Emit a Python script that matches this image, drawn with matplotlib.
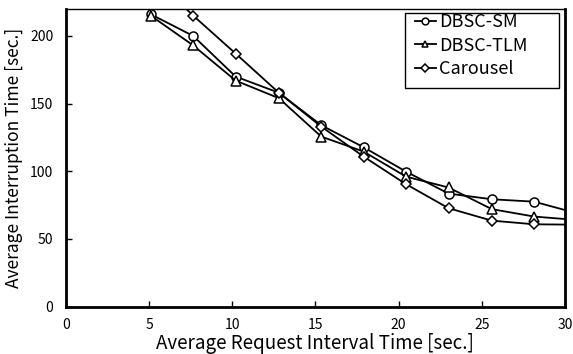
import numpy as np
import matplotlib
matplotlib.use('Agg')
import matplotlib.pyplot as plt
from matplotlib.patches import Rectangle

plt.rcParams['font.family'] = ['Noto Sans CJK JP', 'DejaVu Sans']

# 数据
x = [5.1, 7.65, 10.2, 12.8, 15.35, 17.9, 20.45, 23.0, 25.6, 28.15, 30.7]
dbsc_sm = [216, 200, 170, 158, 134, 117.7, 99.7, 83.5, 79.3, 77.5, 69]
dbsc_tlm = [215, 193, 167, 154, 125.6, 114.5, 96, 88, 72, 66.5, 64]
carousel = [245, 215, 187, 158, 133, 110.8, 90.4, 72.7, 63.5, 60.8, 60.5]

xticks = [0, 5, 10, 15, 20, 25, 30]
yticks = [0, 50, 100, 150, 200]

fig = plt.figure(figsize=(5.73, 3.54), dpi=100)
ax = fig.add_axes([0.115, 0.134, 0.871, 0.841])

style = dict(color='black', lw=1.3, mfc='white', mec='black', mew=1.1)
ax.plot(x, dbsc_sm, marker='o', ms=6.5, label='DBSC-SM', **style)
ax.plot(x, dbsc_tlm, marker='^', ms=6.5, label='DBSC-TLM', **style)
ax.plot(x, carousel, marker='D', ms=5, label='Carousel', **style)

ax.set_xlim(0, 30)
ax.set_ylim(0, 220)
ax.set_xticks(xticks)
ax.set_yticks(yticks)
ax.tick_params(direction='in', length=4, width=1, labelsize=10, colors='black')
ax.tick_params(axis='x', pad=8)
ax.tick_params(axis='y', pad=9)

ax.spines['left'].set_linewidth(2)
ax.spines['bottom'].set_linewidth(2)
ax.spines['right'].set_linewidth(2)
ax.spines['top'].set_linewidth(1)

# 坐标轴标签
ax.set_xlabel('Average Request Interval Time [sec.]', fontsize=13.5)
ax.xaxis.set_label_coords(0.5, -0.088)
ax.xaxis.label.set_verticalalignment('top')
ax.set_ylabel('Average Interruption Time [sec.]', fontsize=12.5)
ax.yaxis.set_label_coords(-0.085, 0.5)

# 图例（无边框，外框单独画）
leg = ax.legend(loc='upper left', fontsize=13, handlelength=1.15, handletextpad=0.2,
                borderpad=0, borderaxespad=0, labelspacing=0.3, frameon=False,
                bbox_to_anchor=(0.699, 0.985), markerscale=0.75)
ax.add_patch(Rectangle((0.679, 0.7346), 0.309, 0.252, transform=ax.transAxes,
                       fill=False, edgecolor='black', lw=1, zorder=5))

plt.savefig('out.png', dpi=100)
